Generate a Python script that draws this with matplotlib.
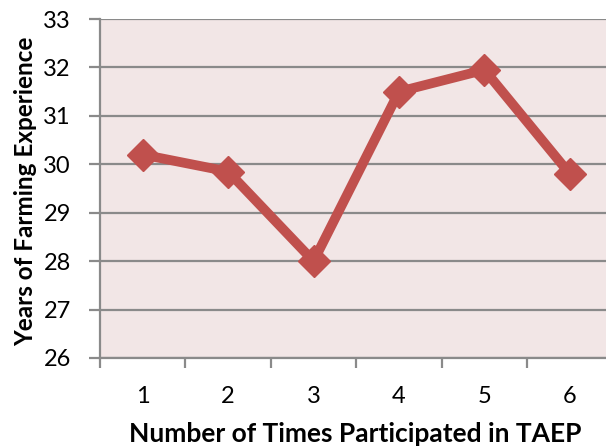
import matplotlib
matplotlib.use("Agg")
import matplotlib.pyplot as plt
from matplotlib.ticker import FixedLocator, NullFormatter

participation = [1, 2, 3, 4, 5, 6]
experience = [30.2, 29.85, 28.0, 31.5, 31.95, 29.8]
y_ticks = [26, 27, 28, 29, 30, 31, 32, 33]

plt.rcParams['font.family'] = ['Lato', 'DejaVu Sans']

W, H = 606, 447
fig = plt.figure(figsize=(W / 100, H / 100), dpi=100)
ax = fig.add_axes([100 / W, (H - 358) / H, 512.6 / W, 339 / H])
ax.set_facecolor('#F2E6E6')

grid_c = '#8A8A8A'
for y in y_ticks:
    ax.axhline(y, color=grid_c, lw=1.6, zorder=1)

ax.plot(participation, experience, color='#C0504D', lw=7, marker='D',
        markersize=16, solid_joinstyle='miter', zorder=3)

ax.set_xlim(0.5, 6.5)
ax.set_ylim(26, 33)
ax.set_yticks(y_ticks)
ax.set_yticklabels([str(v) for v in y_ticks], fontsize=17)

ax.xaxis.set_major_locator(FixedLocator([0.5, 1.5, 2.5, 3.5, 4.5, 5.5, 6.5]))
ax.xaxis.set_major_formatter(NullFormatter())
ax.xaxis.set_minor_locator(FixedLocator(participation))
ax.set_xticklabels([str(v) for v in participation], minor=True, fontsize=17)
ax.tick_params(axis='x', which='minor', length=0, pad=20)
ax.tick_params(axis='x', which='major', length=7, width=1.6, color=grid_c)
ax.tick_params(axis='y', length=8, width=1.6, color=grid_c, pad=13)

for s in ['top', 'right']:
    ax.spines[s].set_visible(False)
for s in ['left', 'bottom']:
    ax.spines[s].set_color(grid_c)
    ax.spines[s].set_linewidth(1.6)

fig.text(26 / W, 1 - 191 / H, 'Years of Farming Experience', rotation=90,
         ha='center', va='center', fontsize=17.5, fontweight='bold')
fig.text(355 / W, 1 - 434 / H, 'Number of Times Participated in TAEP',
         ha='center', va='center', fontsize=19, fontweight='bold')

fig.savefig('out.png', dpi=100)
